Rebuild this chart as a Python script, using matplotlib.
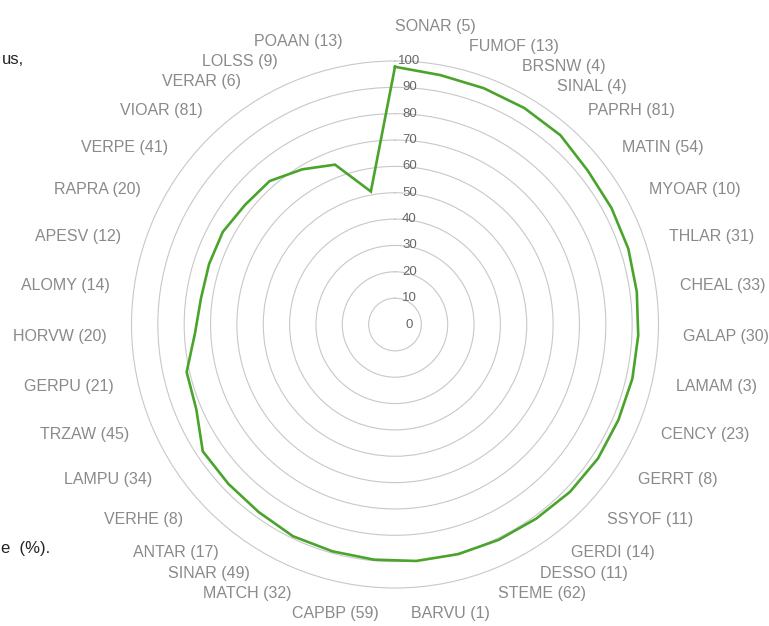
import numpy as np
import matplotlib
matplotlib.use("Agg")
import matplotlib.pyplot as plt
from matplotlib.transforms import offset_copy

# ---- data ----
codes = ["SONAR", "FUMOF", "BRSNW", "SINAL", "PAPRH", "MATIN", "MYOAR", "THLAR",
         "CHEAL", "GALAP", "LAMAM", "CENCY", "GERRT", "SSYOF", "GERDI", "DESSO",
         "STEME", "BARVU", "CAPBP", "MATCH", "SINAR", "ANTAR", "VERHE", "LAMPU",
         "TRZAW", "GERPU", "HORVW", "ALOMY", "APESV", "RAPRA", "VERPE", "VIOAR",
         "VERAR", "LOLSS", "POAAN"]
counts = [5, 13, 4, 4, 81, 54, 10, 31, 33, 30, 3, 23, 8, 11, 14, 11, 62, 1,
          59, 32, 49, 17, 8, 34, 45, 21, 20, 14, 12, 20, 41, 81, 6, 9, 13]
values = [97.8, 96.2, 95.8, 95.7, 95.4, 93.6, 93.3, 93.1, 92.6, 92.4, 92.4, 92.2,
          92.3, 91.9, 91.1, 90.7, 90.4, 90.1, 89.6, 89.3, 89.2, 88.0, 87.5, 87.4,
          82.0, 81.1, 76.0, 74.3, 74.2, 74.2, 72.8, 72.3, 68.6, 64.8, 51.3]
rticks = [0, 10, 20, 30, 40, 50, 60, 70, 80, 90, 100]
caption_top = "us,"
caption_bottom = "e  (%)."

W, H = 769, 626
fig = plt.figure(figsize=(W / 100, H / 100), dpi=100)
fig.patch.set_facecolor("white")

cx, cy, R = 395.0, 324.5, 263.5
ax = fig.add_axes([(cx - R) / W, (H - cy - R) / H, 2 * R / W, 2 * R / H],
                  projection="polar")
ax.set_theta_zero_location("N")
ax.set_theta_direction(-1)
ax.set_ylim(0, 100)
ax.set_xticks([])
ax.set_yticks(rticks[1:-1])
ax.set_yticklabels([])
ax.yaxis.grid(True, color="#c8c8c8", linewidth=0.8)
ax.xaxis.grid(False)
ax.spines["polar"].set_color("#c8c8c8")
ax.spines["polar"].set_linewidth(0.8)
ax.set_facecolor("white")

n = len(codes)
theta = np.arange(n) * 2 * np.pi / n
th_closed = np.append(theta, theta[0])
v_closed = np.append(values, values[0])
ax.plot(th_closed, v_closed, color="#4aa42c", linewidth=1.9, solid_joinstyle="miter")

# radial tick labels
trans = offset_copy(ax.transData, fig=fig, x=14.5, y=0, units="dots")
for r in rticks:
    ax.text(0, r, str(r), transform=trans, ha="center", va="center",
            fontsize=9.5, color="#666666", family="Liberation Sans")

# category labels: anchored outside ring, spread to avoid overlap
R_lab, R_x, gap = 283.0, 288.0, 20.0
labels = [f"{c} ({k})" for c, k in zip(codes, counts)]


def spread(targets):
    order = np.argsort(targets)
    t = np.array(targets)[order]
    clusters = [[i] for i in range(len(t))]
    while True:
        starts = []
        for cl in clusters:
            m = np.mean(t[cl])
            starts.append(m - (len(cl) - 1) * gap / 2)
        merged = False
        for k in range(len(clusters) - 1):
            if starts[k] + len(clusters[k]) * gap > starts[k + 1] + 1e-9:
                clusters[k] = clusters[k] + clusters[k + 1]
                del clusters[k + 1]
                merged = True
                break
        if not merged:
            break
    pos = np.empty(len(t))
    for cl, s in zip(clusters, starts):
        for j, i in enumerate(cl):
            pos[i] = s + j * gap
    out = np.empty(len(t))
    out[order] = pos
    return out


deg = np.degrees(theta)
right = [i for i in range(n) if deg[i] < 180]
left = [i for i in range(n) if deg[i] >= 180]
for side, idx in (("right", right), ("left", left)):
    targets = [cy - R_lab * np.cos(theta[i]) - 1 for i in idx]
    ys = spread(targets)
    for i, y in zip(idx, ys):
        dy = y - cy
        dx = np.sqrt(max(R_x ** 2 - dy ** 2, 0.0))
        if dy > 0:
            dx = max(dx, 16.0)
        if side == "right":
            x, ha = cx + dx, "left"
        else:
            x, ha = cx - dx, "right"
        fig.text(x / W, 1 - y / H, labels[i], ha=ha, va="center",
                 fontsize=11.5, color="#8a8a8a", family="Liberation Sans")

# partial caption text on the left edge
fig.text(2 / W, 1 - 60 / H, caption_top, ha="left", va="center",
         fontsize=12, color="#222222", family="Liberation Sans")
fig.text(1 / W, 1 - 549 / H, caption_bottom, ha="left", va="center",
         fontsize=12, color="#222222", family="Liberation Sans")

fig.savefig("out.png", dpi=100, facecolor="white")
